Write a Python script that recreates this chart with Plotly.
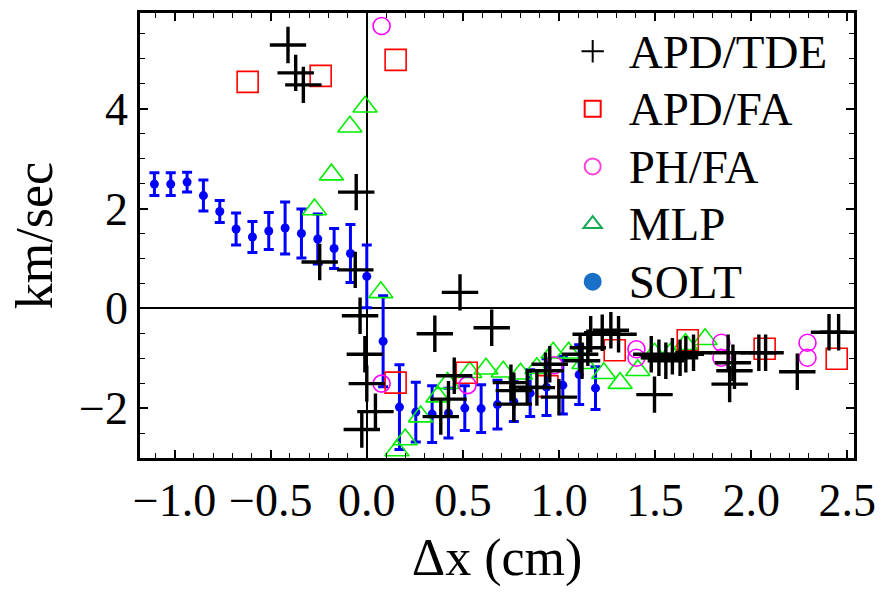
import plotly.graph_objects as go

# ---- data ----
solt_x = [-1.105, -1.02, -0.935, -0.85, -0.765, -0.68, -0.595, -0.51, -0.425, -0.34,
          -0.255, -0.17, -0.085, 0.0, 0.085, 0.17, 0.255, 0.34, 0.425, 0.51,
          0.595, 0.68, 0.765, 0.85, 0.935, 1.02, 1.105, 1.19]
solt_y = [2.49, 2.49, 2.53, 2.26, 1.94, 1.59, 1.43, 1.55, 1.61, 1.50,
          1.39, 1.20, 1.10, 0.64, -0.66, -1.98, -2.08, -2.12, -2.10, -2.00,
          -2.01, -1.93, -1.87, -1.70, -1.58, -1.54, -1.33, -1.60]
solt_err = [0.23, 0.23, 0.20, 0.31, 0.22, 0.32, 0.31, 0.37, 0.52, 0.49,
            0.50, 0.40, 0.58, 0.63, 0.91, 0.85, 0.60, 0.57, 0.50, 0.45,
            0.48, 0.49, 0.40, 0.47, 0.57, 0.58, 0.60, 0.43]

tde_x = [-0.41, -0.37, -0.33, -0.055, -0.245, -0.06, -0.035, -0.01, 0.0, 0.045, -0.026,
         0.485, 0.354, 0.65, 0.455, 0.425, 0.385,
         0.75, 0.765, 0.765, 0.835, 0.885, 0.93, 0.952, 1.0,
         1.11, 1.12, 1.15, 1.165, 1.225, 1.27, 1.31,
         1.497, 1.48, 1.52, 1.556, 1.59, 1.63, 1.66, 1.70,
         1.88, 1.905, 1.913, 1.888,
         2.04, 2.075, 2.24, 2.405, 2.455]
tde_y = [5.28, 4.72, 4.48, 2.33, 0.93, 0.77, -0.15, -0.92, -1.51, -2.07, -2.43,
         0.32, -0.51, -0.39, -1.35, -1.82, -2.17,
         -1.49, -1.65, -1.92, -1.58, -1.59, -1.25, -1.12, -1.78,
         -0.92, -1.05, -0.79, -0.52, -0.49, -0.44, -0.52,
         -1.73, -0.92, -0.99, -1.05, -0.96, -0.99, -0.92, -0.89,
         -0.89, -1.09, -1.25, -1.52,
         -0.89, -0.89, -1.27, -0.48, -0.48]

fa_x = [-0.62, -0.24, 0.15, 0.15, 0.52, 0.94, 1.29, 1.67, 2.07, 2.445]
fa_y = [4.54, 4.66, 4.98, -1.49, -1.29, -1.56, -0.84, -0.64, -0.81, -1.01]

ph_x = [0.077, 0.077, 0.524, 0.975, 1.403, 1.403, 1.845, 1.845, 2.293, 2.293]
ph_y = [5.66, -1.51, -1.54, -1.14, -0.82, -0.99, -0.69, -0.99, -0.69, -0.99]

mlp_x = [-0.272, -0.184, -0.088, -0.009, 0.073, 0.157, 0.20, 0.28, 0.37, 0.42,
         0.536, 0.62, 0.71, 0.80, 0.885, 0.97, 1.05, 1.13, 1.233, 1.318,
         1.41, 1.497, 1.58, 1.658, 1.76]
mlp_y = [1.98, 2.68, 3.64, 4.04, 0.32, -2.85, -2.63, -2.17, -1.77, -1.50,
         -1.28, -1.21, -1.27, -1.31, -1.20, -0.89, -0.89, -1.10, -1.30, -1.50,
         -1.24, -0.91, -0.91, -0.72, -0.62]

x_tick_vals = [-1.0, -0.5, 0.0, 0.5, 1.0, 1.5, 2.0, 2.5]
y_tick_vals = [-2, 0, 2, 4]

FONT = "Liberation Serif"

fig = go.Figure()

# data traces
fig.add_trace(go.Scatter(
    x=solt_x, y=solt_y, mode="markers", showlegend=False,
    marker=dict(symbol="circle", size=9, color="#0000FF"),
    error_y=dict(type="data", array=solt_err, visible=True, color="#0000FF",
                 thickness=3, width=5)))
fig.add_trace(go.Scatter(
    x=mlp_x, y=mlp_y, mode="markers", showlegend=False,
    marker=dict(symbol="triangle-up-open", size=21, color="#00EE00",
                line=dict(width=1.6, color="#00EE00"))))
fig.add_trace(go.Scatter(
    x=fa_x, y=fa_y, mode="markers", showlegend=False,
    marker=dict(symbol="square-open", size=21, color="#FF0000",
                line=dict(width=1.6, color="#FF0000"))))
fig.add_trace(go.Scatter(
    x=ph_x, y=ph_y, mode="markers", showlegend=False,
    marker=dict(symbol="circle-open", size=17, color="#FF00FF",
                line=dict(width=1.6, color="#FF00FF"))))
fig.add_trace(go.Scatter(
    x=tde_x, y=tde_y, mode="markers", showlegend=False,
    marker=dict(symbol="cross-thin-open", size=26, color="black",
                line=dict(width=3.4, color="black"))))

# legend entries
legend_items = [
    ("APD/TDE", "cross-thin-open", "black"),
    ("APD/FA", "square-open", "#FF0000"),
    ("PH/FA", "circle-open", "#FF44DD"),
    ("MLP", "triangle-up-open", "#11AA55"),
    ("SOLT", "circle", "#1A6FC6"),
]
for name, sym, col in legend_items:
    fig.add_trace(go.Scatter(
        x=[None], y=[None], mode="markers",
        name='<span style="font-size:47px">' + name + '</span>',
        marker=dict(symbol=sym, size=16, color=col, line=dict(width=2, color=col))))

axis_common = dict(
    showline=True, linecolor="black", linewidth=2.5, mirror="allticks",
    ticks="inside", tickcolor="black", tickwidth=1.5,
    showgrid=False, zeroline=True, zerolinecolor="black", zerolinewidth=1.5,
    tickfont=dict(family=FONT, size=46, color="black"),
    ticklabeloverflow="allow",
)

fig.update_xaxes(
    range=[-1.18, 2.535], tickvals=x_tick_vals, tickformat=".1f", ticklen=8,
    minor=dict(dtick=0.1, tick0=0, ticklen=5, tickcolor="black", tickwidth=1.2, ticks="inside"),
    title=dict(text="Δx (cm)", font=dict(family=FONT, size=52, color="black"), standoff=14),
    **axis_common)
fig.update_yaxes(
    range=[-3.0, 5.92], tickvals=y_tick_vals, ticklen=8,
    minor=dict(dtick=0.5, tick0=0, ticklen=5, tickcolor="black", tickwidth=1.2, ticks="inside"),
    title=dict(text="km/sec", font=dict(family=FONT, size=52, color="black"), standoff=10),
    **axis_common)

fig.update_layout(
    width=886, height=592,
    margin=dict(l=140, r=19, t=10, b=134),
    paper_bgcolor="white", plot_bgcolor="white",
    font=dict(family=FONT, color="black"),
    legend=dict(x=0.5836, y=0.99, xanchor="left", yanchor="top",
                bgcolor="rgba(0,0,0,0)", borderwidth=0, itemwidth=62,
                font=dict(family=FONT, size=42, color="black")),
)

fig.write_html("out.html")
